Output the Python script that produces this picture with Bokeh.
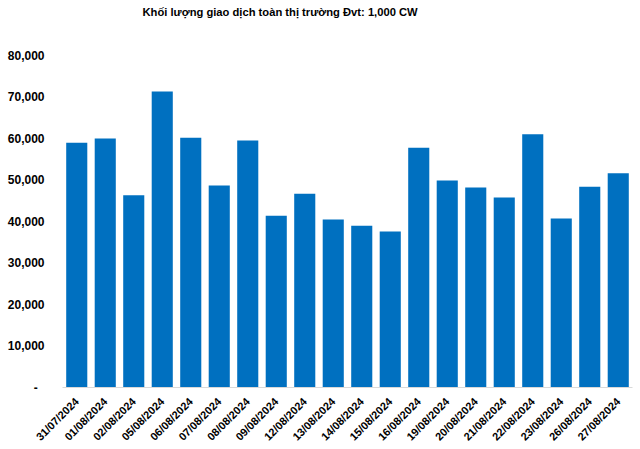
from bokeh.plotting import figure
from bokeh.models import FactorRange, Range1d, FixedTicker, CustomJSTickFormatter, ColumnDataSource, Label
from bokeh.embed import file_html
from bokeh.resources import INLINE
import math

dates = ["31/07/2024", "01/08/2024", "02/08/2024", "05/08/2024", "06/08/2024",
         "07/08/2024", "08/08/2024", "09/08/2024", "12/08/2024", "13/08/2024",
         "14/08/2024", "15/08/2024", "16/08/2024", "19/08/2024", "20/08/2024",
         "21/08/2024", "22/08/2024", "23/08/2024", "26/08/2024", "27/08/2024"]
volumes = [59000, 60000, 46300, 71300, 60200,
           48700, 59500, 41400, 46700, 40500,
           39000, 37600, 57800, 49900, 48200,
           45800, 61000, 40700, 48400, 51600]
y_ticks = [0, 10000, 20000, 30000, 40000, 50000, 60000, 70000, 80000]
title_text = "Khối lượng giao dịch toàn thị trường Đvt: 1,000 CW"

FONT = "Liberation Sans"

# frame spans y=5..387 px; 80,000 sits at y=55 -> range top ~92,050
p = figure(width=640, height=449, x_range=FactorRange(*dates, range_padding=0.0),
           y_range=Range1d(0, 92050), output_backend="svg", toolbar_location=None,
           min_border_left=62, min_border_right=8, min_border_top=5, min_border_bottom=62)
p.title.visible = False

title = Label(x=80, y=376, x_units="screen", y_units="screen", text=title_text,
              text_font=FONT, text_font_size="11.2px", text_font_style="bold",
              text_color="#000000", text_baseline="middle", text_align="left")
p.add_layout(title)

src = ColumnDataSource(dict(x=dates, top=volumes))
p.vbar(x="x", top="top", width=0.74, source=src, color="#0070C0", line_color=None)

p.xgrid.visible = False
p.ygrid.visible = False
p.outline_line_color = None

p.yaxis.ticker = FixedTicker(ticks=y_ticks)
p.yaxis.formatter = CustomJSTickFormatter(code="""
    if (tick == 0) { return '-\u00a0\u00a0'; }
    return tick.toLocaleString('en-US');
""")
p.yaxis.axis_line_color = None
p.yaxis.major_tick_line_color = None
p.yaxis.minor_tick_line_color = None
p.yaxis.major_label_text_font = FONT
p.yaxis.major_label_text_font_size = "12px"
p.yaxis.major_label_text_font_style = "bold"
p.yaxis.major_label_text_color = "#000000"
p.yaxis.major_label_standoff = 12

p.xaxis.axis_line_color = "#d9d9d9"
p.xaxis.axis_line_width = 1
p.xaxis.major_tick_line_color = None
p.xaxis.minor_tick_line_color = None
p.xaxis.major_label_orientation = math.pi / 4
p.xaxis.major_label_text_font = FONT
p.xaxis.major_label_text_font_size = "11px"
p.xaxis.major_label_text_font_style = "bold"
p.xaxis.major_label_text_color = "#000000"
p.xaxis.major_label_standoff = 6

open("out.html", "w").write(file_html(p, INLINE))
